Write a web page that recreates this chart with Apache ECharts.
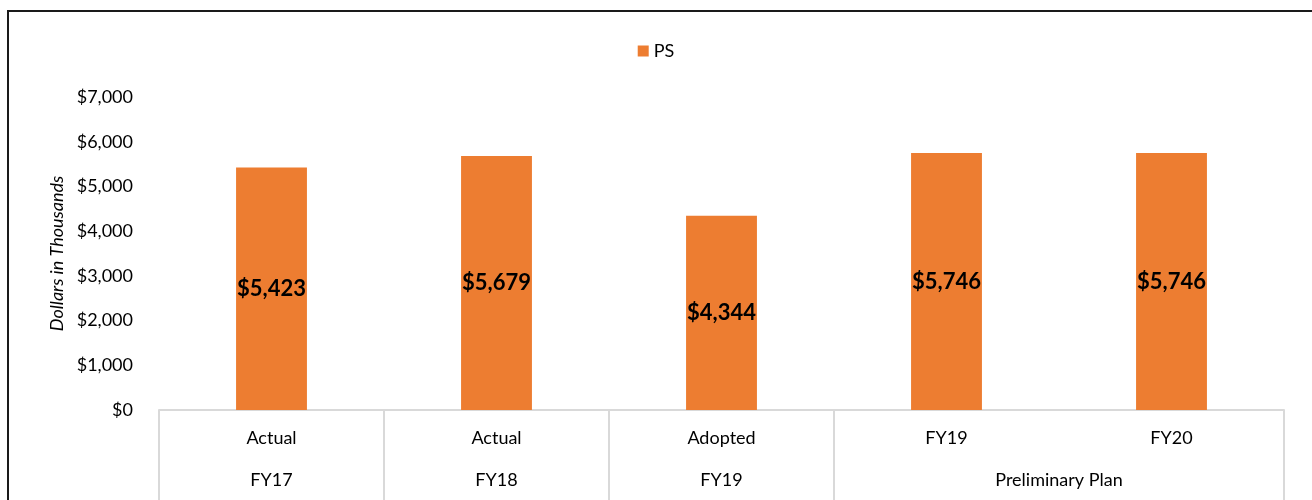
<!DOCTYPE html>
<html>
<head>
<meta charset="utf-8">
<script src="https://cdn.jsdelivr.net/npm/echarts@6/dist/echarts.min.js"></script>
<style>
    html, body { margin: 0; padding: 0; background: #fff; }
    #chart { width: 1312px; height: 500px; }
</style>
</head>
<body>
<div id="chart"></div>
<script>
    // level 1 labels (under each bar) and level 2 group labels
    const categories = ["Actual", "Actual", "Adopted", "FY19", "FY20"]
    const groupLabels = ["FY17", "FY18", "FY19", "Preliminary Plan"]
    const groupCenters = [0.5, 1.5, 2.5, 4]
    const groupEdges = [0, 1, 2, 3, 5]
    const psValues = [5423, 5679, 4344, 5746, 5746]

    const font = "Lato, 'Open Sans', sans-serif"
    const money = v => "$" + v.toLocaleString("en-US")

    let myChart = echarts.init(document.getElementById('chart'))
    myChart.setOption({
        animation: false,
        textStyle: {fontFamily: font},
        legend: {
            top: 37,
            left: 'center',
            itemWidth: 11,
            itemHeight: 11,
            itemGap: 8,
            icon: 'rect',
            textStyle: {fontSize: 18, color: '#000', fontFamily: font},
            data: ["PS"],
        },
        grid: {left: 159, right: 28, top: 97, bottom: 90},
        xAxis: [
            {
                type: 'category',
                data: categories,
                axisLine: {lineStyle: {color: '#D9D9D9', width: 2}},
                axisTick: {show: false},
                axisLabel: {fontSize: 18, color: '#000', margin: 19, fontFamily: font},
            },
            {
                type: 'value',
                position: 'bottom',
                min: 0,
                max: 5,
                splitLine: {show: false},
                axisLine: {show: false},
                axisTick: {
                    show: true,
                    customValues: groupEdges,
                    length: 92,
                    lineStyle: {color: '#D9D9D9', width: 2},
                },
                axisLabel: {
                    customValues: groupCenters,
                    formatter: v => groupLabels[groupCenters.indexOf(v)] || '',
                    fontSize: 18,
                    color: '#000',
                    margin: 61,
                    fontFamily: font,
                },
            },
        ],
        yAxis: {
            type: 'value',
            min: 0,
            max: 7000,
            interval: 1000,
            name: "Dollars in Thousands",
            nameLocation: 'middle',
            nameGap: 90,
            nameTextStyle: {fontSize: 18, fontStyle: 'italic', color: '#000', fontFamily: font},
            splitLine: {show: false},
            axisLine: {show: false},
            axisTick: {show: false},
            axisLabel: {fontSize: 18, color: '#000', margin: 26, formatter: money, fontFamily: font},
        },
        series: [
            {
                name: "PS",
                type: 'bar',
                data: psValues,
                barWidth: '31.5%',
                itemStyle: {color: '#ED7D31'},
                label: {
                    show: true,
                    position: 'inside',
                    formatter: p => money(p.value),
                    fontSize: 22,
                    fontWeight: 'bold',
                    color: '#000',
                    fontFamily: font,
                },
            },
        ],
        graphic: [
            {
                type: 'polyline',
                shape: {points: [[8, 500], [8, 11], [1312, 11]]},
                style: {stroke: '#1a1a1a', lineWidth: 2, fill: null},
            },
        ],
    })
</script>
</body>
</html>
